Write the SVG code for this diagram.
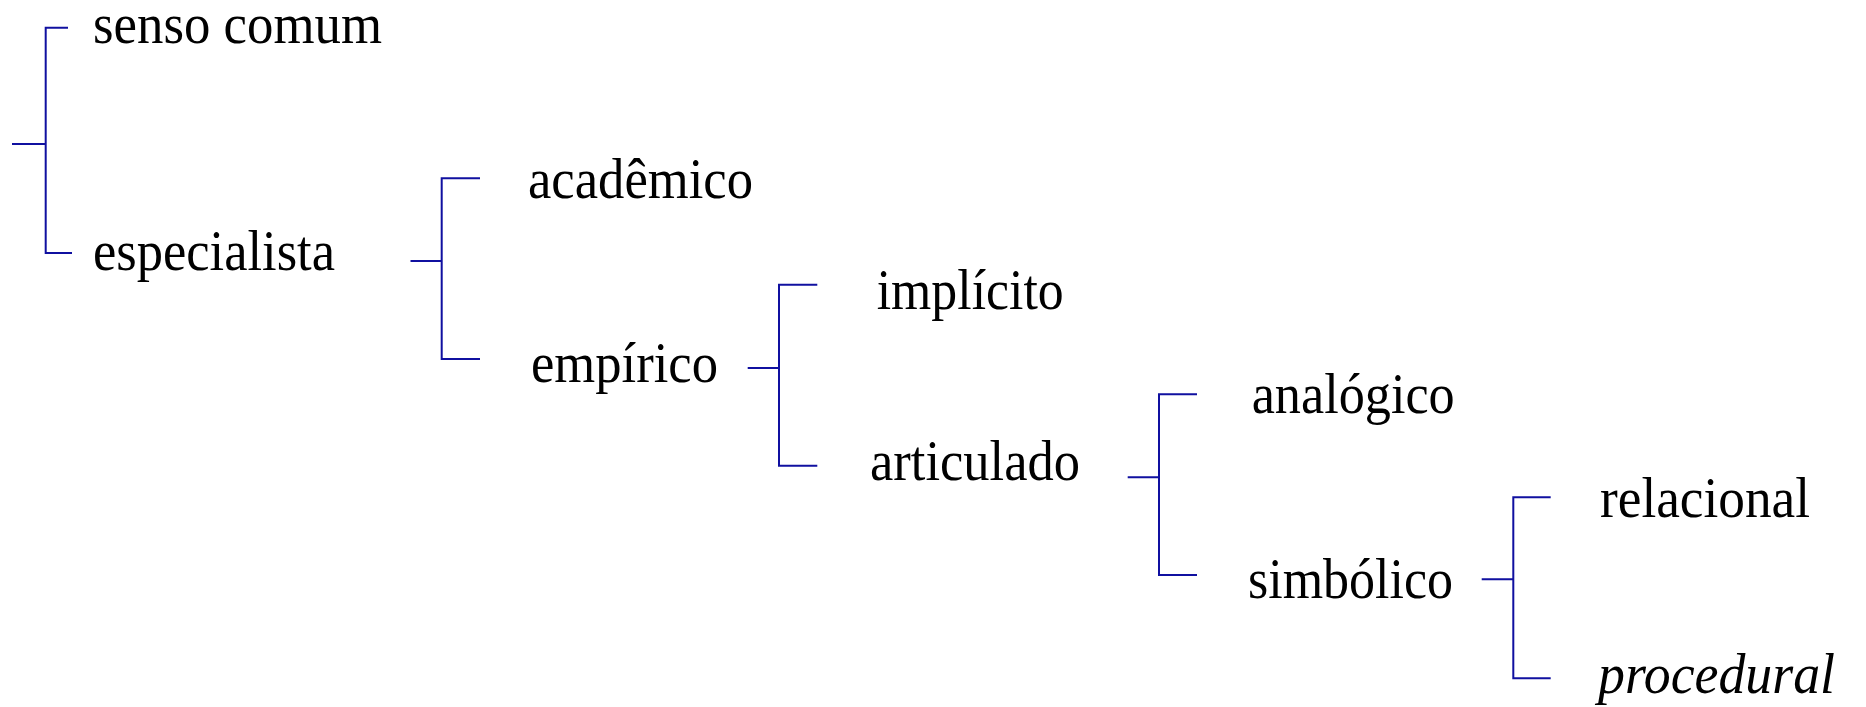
<svg xmlns="http://www.w3.org/2000/svg" width="1866" height="707" viewBox="0 0 1866 707">
<style>
.c{fill:none;stroke:#1010a0;stroke-width:2}
.t{font-family:"Liberation Serif","Times New Roman",serif;font-size:58px;fill:#000}
.i{font-style:italic}
</style>
<rect width="1866" height="707" fill="#fff"/>
<g id="connectors">
<path class="c" d="M12,144 H45.7 M68,27.7 H45.7 V253 H72"/>
<path class="c" d="M410.5,261 H441.7 M480,178.3 H441.7 V359 H480"/>
<path class="c" d="M747.7,368 H779 M817.3,284.7 H779 V465.7 H817.3"/>
<path class="c" d="M1127.7,477.3 H1159 M1197,394.3 H1159 V575 H1197"/>
<path class="c" d="M1481.7,579.3 H1513.3 M1550.7,497.3 H1513.3 V678.3 H1550.7"/>
</g>
<g id="senso-comum"><text class="t" x="93" y="42.7" textLength="289" lengthAdjust="spacingAndGlyphs">senso comum</text></g>
<g id="especialista"><text class="t" x="93" y="270" textLength="242" lengthAdjust="spacingAndGlyphs">especialista</text></g>
<g id="academico"><text class="t" x="528" y="198.3" textLength="225" lengthAdjust="spacingAndGlyphs">acadêmico</text></g>
<g id="empirico"><text class="t" x="531" y="382" textLength="187" lengthAdjust="spacingAndGlyphs">empírico</text></g>
<g id="implicito"><text class="t" x="876.7" y="309" textLength="187" lengthAdjust="spacingAndGlyphs">implícito</text></g>
<g id="articulado"><text class="t" x="870" y="480" textLength="210" lengthAdjust="spacingAndGlyphs">articulado</text></g>
<g id="analogico"><text class="t" x="1251.7" y="412.7" textLength="203" lengthAdjust="spacingAndGlyphs">analógico</text></g>
<g id="simbolico"><text class="t" x="1248" y="597.5" textLength="205" lengthAdjust="spacingAndGlyphs">simbólico</text></g>
<g id="relacional"><text class="t" x="1600" y="517.3" textLength="210" lengthAdjust="spacingAndGlyphs">relacional</text></g>
<g id="procedural"><text class="t i" x="1598" y="693.3" textLength="237" lengthAdjust="spacingAndGlyphs">procedural</text></g>
</svg>
